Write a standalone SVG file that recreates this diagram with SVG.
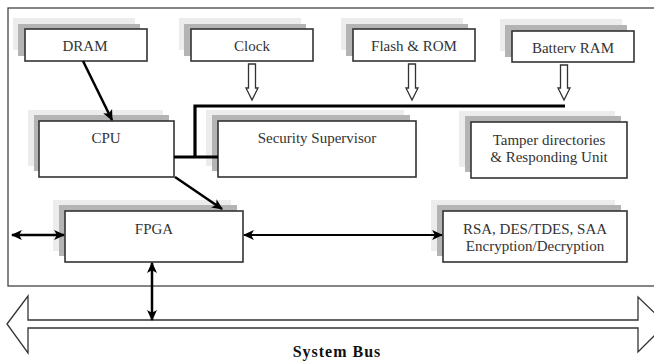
<svg xmlns="http://www.w3.org/2000/svg" width="654" height="361" viewBox="0 0 654 361">
<style>
.box{fill:#fff;stroke:#333;stroke-width:1.6}
.sh1{fill:#ececec}
.sh2{fill:#b4b4b4}
.t{font-family:'Liberation Serif',serif;font-size:15px;fill:#333;text-anchor:middle}
.ln{stroke:#000;fill:none}
.hol{fill:#fff;stroke:#333;stroke-width:1.3}
</style>
<defs>
<marker id="ah2" viewBox="0 0 10 10" refX="9" refY="5" markerWidth="11" markerHeight="11" orient="auto-start-reverse" markerUnits="userSpaceOnUse">
<path d="M0,0.5 L10,5 L0,9.5 L2.5,5 Z" fill="#000"/>
</marker>
</defs>
<rect width="654" height="361" fill="#fff"/>
<rect x="8" y="8" width="660" height="278" fill="#fff" stroke="#444" stroke-width="1.3"/>

<g id="dram">
<rect class="sh1" x="13" y="18" width="122" height="32"/>
<rect class="sh2" x="18" y="24" width="122" height="32"/>
<rect class="box" x="25" y="29" width="122" height="32"/>
<text class="t" x="85" y="51">DRAM</text>
</g>
<g id="clock">
<rect class="sh1" x="179" y="18" width="122" height="32"/>
<rect class="sh2" x="184" y="24" width="122" height="32"/>
<rect class="box" x="191" y="29" width="122" height="32"/>
<text class="t" x="252" y="51">Clock</text>
</g>
<g id="flash">
<rect class="sh1" x="341" y="18" width="122" height="32"/>
<rect class="sh2" x="346" y="24" width="122" height="32"/>
<rect class="box" x="353" y="29" width="122" height="32"/>
<text class="t" x="414" y="51">Flash &amp; ROM</text>
</g>
<g id="battery">
<rect class="sh1" x="500" y="19" width="122" height="32"/>
<rect class="sh2" x="505" y="25" width="122" height="32"/>
<rect class="box" x="512" y="31" width="122" height="31"/>
<text class="t" x="573" y="53">Batterv RAM</text>
</g>
<g id="cpu">
<rect class="sh1" x="28" y="110" width="135" height="56"/>
<rect class="sh2" x="34" y="115" width="135" height="56"/>
<rect class="box" x="39" y="121" width="135" height="56"/>
<text class="t" x="106" y="143">CPU</text>
</g>
<g id="security">
<rect class="sh1" x="206" y="110" width="198" height="56"/>
<rect class="sh2" x="212" y="115" width="198" height="56"/>
<rect class="box" x="218" y="121" width="198" height="56"/>
<text class="t" x="317" y="143">Security Supervisor</text>
</g>
<g id="tamper">
<rect class="sh1" x="459" y="111" width="156" height="56"/>
<rect class="sh2" x="465" y="116" width="156" height="56"/>
<rect class="box" x="471" y="122" width="156" height="56"/>
<text class="t" x="549" y="145">Tamper directories</text>
<text class="t" x="549" y="162">&amp; Responding Unit</text>
</g>
<g id="fpga">
<rect class="sh1" x="53" y="200" width="178" height="51"/>
<rect class="sh2" x="59" y="205" width="178" height="51"/>
<rect class="box" x="65" y="211" width="178" height="51"/>
<text class="t" x="154" y="234">FPGA</text>
</g>
<g id="rsa">
<rect class="sh1" x="431" y="200" width="184" height="51"/>
<rect class="sh2" x="437" y="205" width="184" height="51"/>
<rect class="box" x="443" y="211" width="184" height="51"/>
<text class="t" x="535" y="234">RSA, DES/TDES, SAA</text>
<text class="t" x="535" y="251">Encryption/Decryption</text>
</g>

<g id="system-bus">
<path class="hol" stroke-width="1.8" d="M7,324 L28,296 L28,320 L638,320 L638,297 L666,324 L638,352 L638,328 L28,328 L28,353 Z"/>
<text class="t" x="337" y="357" font-weight="bold" letter-spacing="1" style="fill:#111;font-size:16px">System Bus</text>
</g>

<g id="connectors">
<path class="ln" stroke-width="3.2" d="M195,106 H565 M195,104.5 V157 M174,157 H218"/>
<path class="hol" d="M248.5,64 H255.5 V88 H258 L252,100 L246,88 H248.5 Z"/>
<path class="hol" d="M408.5,64 H415.5 V88 H418 L412,100 L406,88 H408.5 Z"/>
<path class="hol" d="M560.5,65 H567.5 V88 H570 L564,100 L558,88 H560.5 Z"/>
<line class="ln" stroke-width="2.5" x1="83" y1="61" x2="112" y2="120" marker-end="url(#ah2)"/>
<line class="ln" stroke-width="2.5" x1="175" y1="177" x2="222" y2="209" marker-end="url(#ah2)"/>
<line class="ln" stroke-width="2.5" x1="12" y1="235" x2="64" y2="235" marker-start="url(#ah2)" marker-end="url(#ah2)"/>
<line class="ln" stroke-width="2" x1="244" y1="235" x2="442" y2="235" marker-start="url(#ah2)" marker-end="url(#ah2)"/>
<line class="ln" stroke-width="2.5" x1="152" y1="263" x2="152" y2="320" marker-start="url(#ah2)" marker-end="url(#ah2)"/>
</g>
</svg>
